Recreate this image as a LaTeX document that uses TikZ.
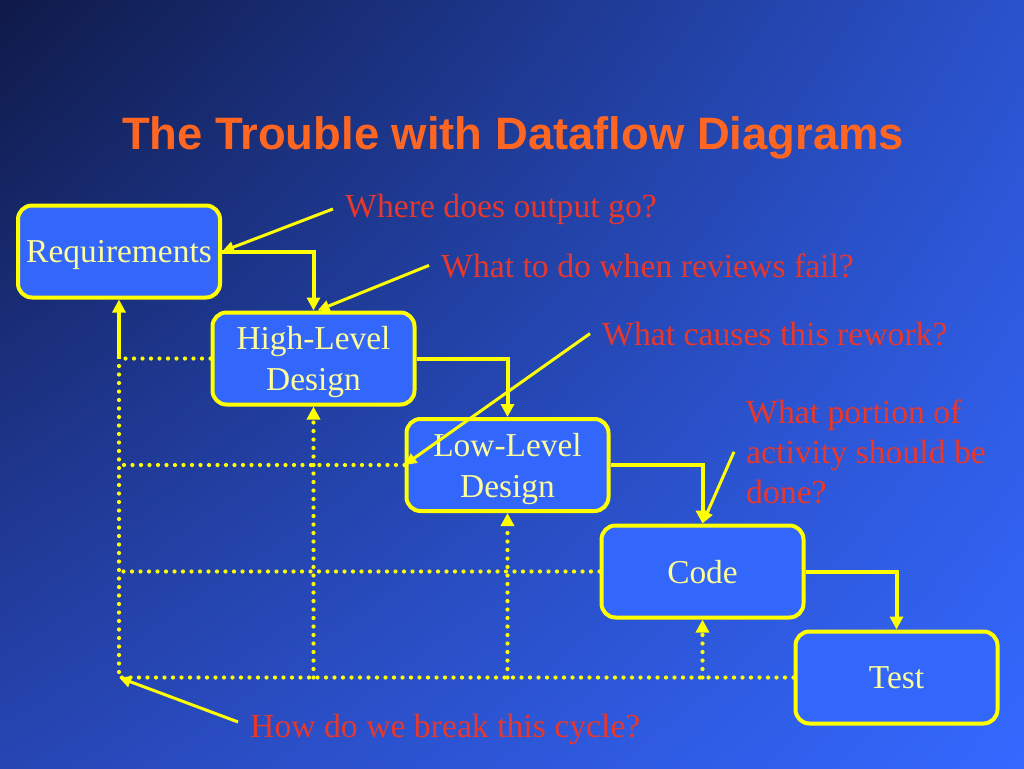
\documentclass[tikz,border=0pt]{standalone}
\usepackage{fontspec}
\setmainfont{Liberation Serif}
\newfontfamily\titlefont{Liberation Sans}
\usetikzlibrary{arrows.meta,shadings}
\definecolor{bgtl}{HTML}{0F1A48}
\definecolor{bgtr}{HTML}{2A52CC}
\definecolor{bgbl}{HTML}{2746B4}
\definecolor{bgbr}{HTML}{3468FF}
\definecolor{boxblue}{HTML}{3366FA}
\definecolor{lineyellow}{HTML}{FFFF00}
\definecolor{textyellow}{HTML}{FFFF99}
\definecolor{qred}{HTML}{E8382C}
\definecolor{titleorange}{HTML}{FF6622}
\tikzset{
  stage/.style={draw=lineyellow, line width=4pt, fill=boxblue, rounded corners=14pt,
    minimum width=202pt, minimum height=92pt, inner sep=0pt, align=center,
    text=textyellow, font=\fontsize{33.4}{41}\selectfont, text depth=0pt},
  flow/.style={draw=lineyellow, line width=4pt, -{Triangle[length=13pt,width=13pt]}},
  back/.style={draw=lineyellow, line width=4.2pt, line cap=round, dash pattern=on 0pt off 8.5pt},
  backup/.style={back, -{Triangle[length=13pt,width=13pt]}},
  question/.style={text=qred, font=\fontsize{33.7}{40}\selectfont, inner xsep=12pt, inner ysep=0pt, align=left},
  pointer/.style={draw=lineyellow, line width=3pt, -{Triangle[length=12pt,width=11pt]}}
}
\begin{document}
\begin{tikzpicture}[x=1pt,y=-1pt]
\shade[upper left=bgtl, upper right=bgtr, lower left=bgbl, lower right=bgbr] (0,0) rectangle (1024,768);
\useasboundingbox (0,0) rectangle (1024,768);
\node[anchor=base, text=titleorange, font=\titlefont\bfseries\fontsize{45.4}{54}\selectfont] (title) at (513,149) {The Trouble with Dataflow Diagrams};
\node[stage] (req) at (119,251.5) {Requirements};
\node[stage] (hld) at (313.5,358.5) {High-Level\\Design};
\node[stage] (lld) at (507.5,465) {Low-Level\\Design};
\node[stage] (code) at (702.5,571.5) {Code};
\node[stage] (test) at (896.5,677.5) {Test};
\node[question, anchor=base west] (qout) at (333,217) {Where does output go?};
\node[question, anchor=base west] (qreview) at (429,277) {What to do when reviews fail?};
\node[question, anchor=base west] (qrework) at (590,345) {What causes this rework?};
\node[question, anchor=north west] (qportion) at (734,399.5) {What portion of\\activity should be\\done?};
\node[question, anchor=base west] (qcycle) at (238,737) {How do we break this cycle?};
\coordinate (loop) at (req.south |- test.west);
\draw [back] (test.west) -- (loop) -- (req.south |- hld.west);
\draw [back] (hld.west) -- (req.south |- hld.west);
\draw [back] (lld.west) -- (req.south |- lld.west);
\draw [back] (code.west) -- (req.south |- code.west);
\draw [flow] (req.south |- hld.west) -- (req.south);
\draw [backup] (hld.south |- test.west) -- (hld.south);
\draw [backup] (lld.south |- test.west) -- (lld.south);
\draw [backup] (code.south |- test.west) -- (code.south);
\draw [flow] (req.east) -| (hld.north);
\draw [flow] (hld.east) -| (lld.north);
\draw [flow] (lld.east) -| (code.north);
\draw [flow] (code.east) -| (test.north);
\draw [pointer] (qout.west) -- (req.east);
\draw [pointer] (qreview.west) -- ([xshift=4pt]hld.north);
\draw [pointer] (qrework.west) -- (lld.west);
\draw [pointer] (qportion.west) -- (code.north);
\draw [pointer] ([yshift=7pt]qcycle.west) -- (loop);
\end{tikzpicture}
\end{document}
